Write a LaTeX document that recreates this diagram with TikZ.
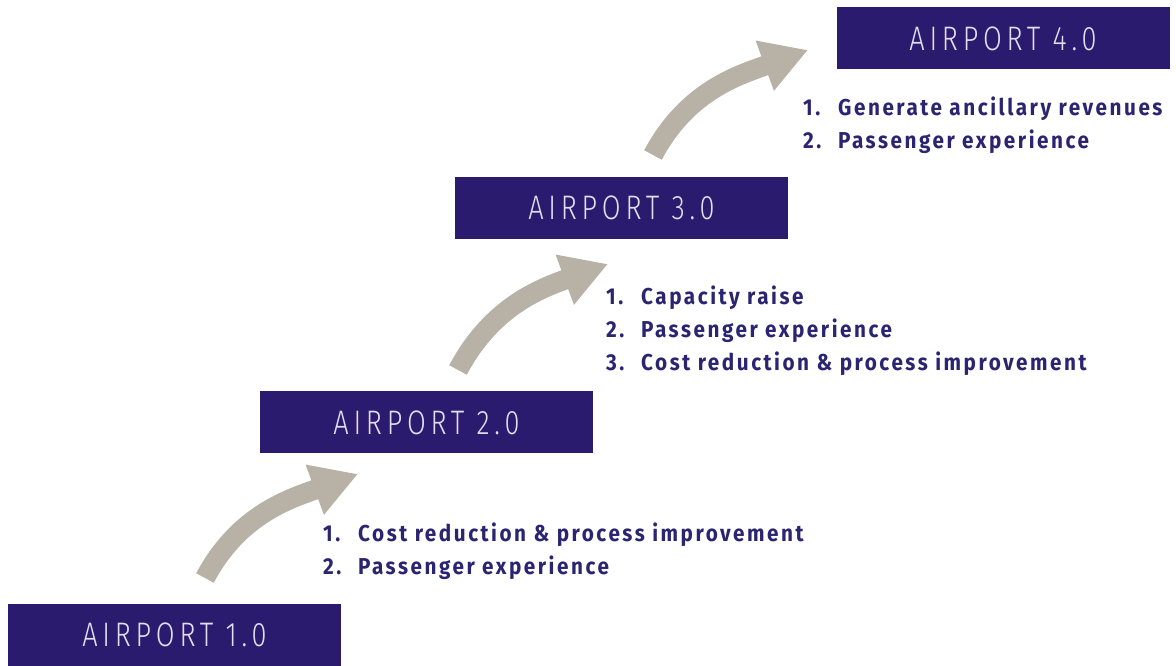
\documentclass[tikz,border=0pt]{standalone}
\usepackage{fontspec}
\setmainfont{Fira Sans}[FakeStretch=0.9,LetterSpace=11]
\newfontfamily\lightfont{Fira Sans Light}[FakeStretch=0.8,LetterSpace=14]
\usetikzlibrary{arrows.meta}
\definecolor{navy}{HTML}{2A1B6E}
\definecolor{navytext}{HTML}{2B2470}
\definecolor{stone}{HTML}{B7B1A6}
\definecolor{pale}{HTML}{E4DEF2}
\newcommand{\num}[1]{\makebox[35pt][l]{#1}}
\tikzset{
    stage/.style={fill=navy, text=pale, minimum width=333pt, minimum height=62pt, inner sep=0pt, font=\lightfont\fontsize{34}{38}\selectfont},
    goals/.style={anchor=north west, align=left, text=navytext, inner sep=0pt, font=\bfseries\fontsize{23}{33}\selectfont},
    rise/.style={line width=20pt, stone, -{Triangle[length=46pt,width=50pt]}}
}
\begin{document}
\begin{tikzpicture}[x=1pt,y=1pt]
        \useasboundingbox (0,0) rectangle (1176,666);
        \node [stage] (ap1) at (174.5,31) {AIRPORT 1.0};
        \node [stage] (ap2) at (426.5,243.5) {AIRPORT 2.0};
        \node [stage] (ap3) at (621.5,458) {AIRPORT 3.0};
        \node [stage] (ap4) at (1003,627.5) {AIRPORT 4.0};
        \node [goals] (g1) at (323,143) {\num{1.}Cost reduction \& process improvement\\\num{2.}Passenger experience};
        \node [goals] (g2) at (606,380) {\num{1.}Capacity raise\\\num{2.}Passenger experience\\\num{3.}Cost reduction \& process improvement};
        \node [goals] (g3) at (803,569) {\num{1.}Generate ancillary revenues\\\num{2.}Passenger experience};
        \coordinate (t1) at (205,88);
        \coordinate (h1) at (358,192);
        \coordinate (t2) at (458,296);
        \coordinate (h2) at (608,402);
        \coordinate (t3) at (653,511);
        \coordinate (h3) at (808,616);
        \draw [rise] (t1) to[out=62,in=200] (h1);
        \draw [rise] (t2) to[out=62,in=200] (h2);
        \draw [rise] (t3) to[out=62,in=200] (h3);
\end{tikzpicture}
\end{document}
